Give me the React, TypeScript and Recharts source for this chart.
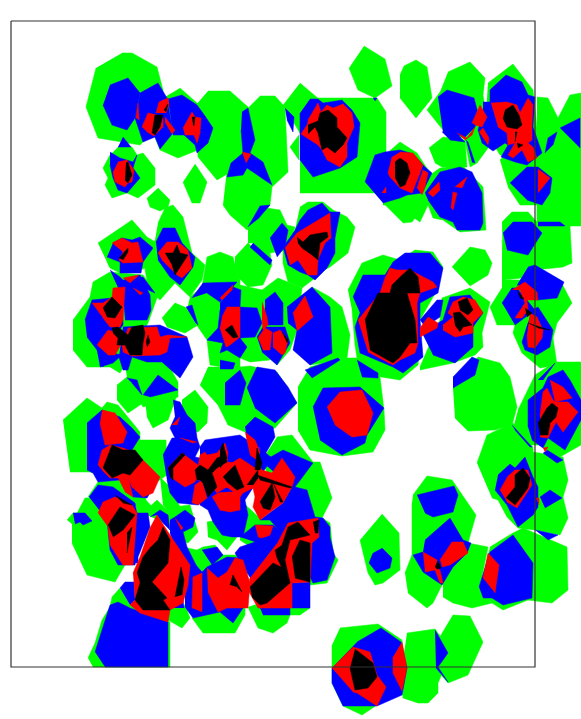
import React from "react"
import { Scatter, ScatterChart, XAxis, YAxis } from "recharts"

// every cell is a flat x,y,x,y... outline in the chart's own units
const greenCells: number[][] = [
  [122,53,132,53,157,67,163,90,165,120,140,145,98,138,86,107,96,68],
  [180,88,197,103,205,120,198,150,178,158,160,150,150,125,160,100],
  [208,91,230,91,248,107,255,145,243,165,217,180,198,157,196,105],
  [260,96,275,96,285,107,288,172,272,187,248,165,248,108],
  [228,160,250,165,272,187,270,205,262,215,247,230,230,215,223,205],
  [300,83,320,100,320,135,300,133,283,105],
  [300,98,377,98,386,112,386,193,300,193],
  [299,135,290,147,299,160],
  [364,46,385,59,392,86,375,98,358,90,349,68],
  [118,147,132,147,137,155,143,153,155,168,155,185,138,198,127,193,112,198,105,185,108,178,103,168,110,155],
  [158,188,170,200,168,207,160,211,150,207,147,198],
  [195,164,207,182,200,203,192,203,183,182],
  [158,223,165,208,173,205,183,217,192,253,205,265,202,280,190,297,175,283,160,300,149,290,145,270,155,240],
  [98,243,132,220,147,237,157,243,153,267,120,273,110,268,107,262],
  [73,320,90,297,93,282,110,272,143,275,158,295,148,323,120,373,110,367,87,367,73,350],
  [162,318,175,303,187,308,198,325,185,333,167,327],
  [123,353,160,350,178,382,178,397,143,407,127,377],
  [117,385,127,377,143,397,143,403,128,413,117,400],
  [145,400,177,395,168,420,153,428,147,417],
  [182,400,195,390,208,407,207,423,198,432,182,427],
  [190,297,202,287,207,257,220,252,233,257,237,273,240,280,240,370,210,365,207,340,198,327,187,310],
  [240,285,262,290,263,330,258,347,270,360,250,362,240,358],
  [208,367,240,367,250,366,277,372,297,403,275,428,245,432,228,425,218,405,200,385],
  [248,225,260,207,280,210,287,225,295,227,288,250,270,253,272,265,253,243,248,243],
  [235,257,248,243,272,265,263,285,248,287,238,277,235,267],
  [300,207,308,202,323,202,333,210,347,217,355,227,348,253,330,267,318,273,315,278,302,288,288,282,283,263,283,247,295,230],
  [262,290,278,278,302,288,297,330,290,350,277,365,258,347,257,337,263,327,262,303],
  [312,287,330,297,342,307,350,335,347,358,342,360,310,365,325,350,330,310],
  [298,387,310,367,340,358,357,358,380,377,384,410,385,430,373,452,342,456,310,450,298,430],
  [348,290,362,263,383,255,400,260,415,250,433,252,443,267,437,290,420,320,420,345,418,365,400,380,375,376,357,358,355,345,352,310],
  [420,367,440,320,442,298,470,288,490,302,482,333,483,347,475,355,453,363,420,370],
  [453,388,478,357,500,363,510,377,517,407,512,425,495,430,468,431,455,418],
  [452,267,470,247,485,250,492,263,488,275,470,286],
  [502,222,512,212,528,212,537,222,570,226,572,263,563,267,535,270,522,278,503,280],
  [537,97,548,98,558,118,570,95,581,93,581,226,537,226,537,150],
  [488,83,513,64,533,90,537,128,537,165,520,160,500,155,485,130],
  [500,160,510,150,540,165,538,205,520,205,508,187],
  [448,72,470,62,485,78,483,95,488,127,488,148,477,163,467,140,443,130,427,110,440,92],
  [477,163,470,167,465,140,470,135],
  [400,75,404,66,416,60,427,67,432,98,416,118,400,98],
  [429,148,443,137,465,140,467,167,442,167,435,163],
  [385,155,400,142,417,153,430,173,437,185,428,205,420,222,410,215,400,205,383,205],
  [383,203,420,195,425,205,412,222,403,223],
  [430,175,440,168,462,165,483,187,486,230,460,232,443,220,433,218,425,197],
  [502,240,505,280,520,280,537,267,560,280,572,303,557,323,553,338,557,365,540,368,522,353,513,333,515,325,497,325,490,307,502,288],
  [518,410,535,375,555,362,581,362,581,445,558,458,540,445,530,445,510,440],
  [477,463,487,435,502,428,513,423,533,447,533,452,563,457,568,480,563,497,568,518,560,535,535,530,518,528,507,517,498,500,492,498],
  [413,495,427,476,452,480,476,515,468,543,428,562,412,557,412,503],
  [405,573,412,555,423,557,443,583,433,603,427,608,408,593],
  [443,583,453,550,468,543,488,547,480,587,492,603,472,608,453,603,443,597],
  [490,547,513,533,523,528,567,547,568,590,552,603,528,600,503,610,492,603,480,587],
  [382,514,399,533,400,570,383,583,375,585,368,573,360,540],
  [63,420,87,398,102,408,107,402,118,405,140,432,140,440,166,440,167,475,145,490,120,480,90,472,70,472],
  [72,523,85,498,107,497,110,550,125,565,115,582,87,575,72,543],
  [88,497,98,482,120,480,145,497,150,513,125,500],
  [67,520,73,513,80,513,80,523,73,525],
  [135,498,143,497,157,512,148,513,137,515],
  [143,513,157,500,167,510,173,507,190,505,198,532,188,543,178,540,168,525],
  [207,522,217,520,223,533,237,537,227,550,217,540,208,537],
  [183,547,197,550,203,547,215,545,222,555,240,555,210,575,195,575],
  [160,477,170,487,180,507,173,518,167,510,163,505],
  [277,437,292,435,313,462,320,462,332,498,322,518,330,523,333,553,338,560,327,583,310,585,290,520,270,480,262,460],
  [240,500,262,520,285,520,290,530,270,560,240,540],
  [168,620,182,628,190,618,185,605,168,608],
  [192,618,203,633,235,633,245,615,245,600],
  [248,607,258,628,273,633,287,623,290,615,300,615,310,608,297,590],
  [88,658,95,643,102,620,110,607,112,597,120,588,130,605,170,622,170,667,93,667],
  [340,628,378,624,402,640,405,665,395,695,377,705,362,715,343,706,332,683,332,645],
  [407,633,435,629,443,640,448,650,448,660,438,683,438,693,428,703,418,703,403,698,400,680],
  [438,640,453,615,470,616,483,642,468,675,448,683,437,670],
]

const blueCells: number[][] = [
  [110,85,128,78,140,93,135,118,127,130,112,125,103,105],
  [140,93,158,83,167,98,173,133,160,149,155,137,143,142,135,118],
  [168,99,182,95,197,105,205,116,213,128,208,143,197,153,195,145,184,135,173,135],
  [123,137,131,147,118,147],
  [110,152,120,158,133,162,137,155,133,168,140,178,127,193,118,190,113,178,110,165],
  [242,112,248,108,255,140,250,153,263,162,272,185,247,168,243,175,227,177,231,163,243,153,241,130],
  [285,108,294,117,293,132,287,120],
  [310,99,318,99,323,103,330,102,342,100,352,110,360,123,357,157,340,168,313,177,300,160,300,113],
  [373,98,377,98,375,101],
  [248,227,260,206,270,205,258,219],
  [270,238,282,223,288,230,285,247,277,257],
  [253,243,272,260,270,265,250,247],
  [295,230,300,220,308,210,322,203,330,212,340,212,335,238,335,253,327,268,315,280,308,275,300,272,288,265,283,247],
  [113,243,122,238,132,240,140,237,153,248,143,262,141,273,120,273,120,262,107,257],
  [156,242,163,228,175,228,182,243,195,257,193,267,180,285,170,277,158,260],
  [85,320,92,300,112,298,123,320,123,325,110,343,103,367,97,350,87,337],
  [123,293,128,278,140,275,150,295,151,310,147,320,125,320],
  [110,270,120,277,123,280,143,277,155,293,142,287,128,285,120,292],
  [123,327,160,325,187,337,193,357,180,378,162,362,147,362,132,357,128,370,123,370,119,357],
  [97,350,122,355,113,363,100,367],
  [127,378,137,380,142,395,132,383],
  [143,395,158,375,178,390,150,397],
  [192,298,203,283,237,282,220,302,207,293],
  [186,307,192,305,198,325,195,322],
  [220,303,233,287,241,290,240,307,257,308,262,323,255,337,240,338,247,347,240,358,227,350,220,353,223,343,207,340,218,328,220,310],
  [225,383,240,370,246,383,240,405,225,405],
  [220,360,235,363,233,369,220,369],
  [265,300,275,292,283,303,283,325,268,325,265,317],
  [257,337,263,327,285,327,290,343,277,365,262,352],
  [287,307,312,287,330,307,332,353,310,365,293,350,297,330,288,323],
  [247,388,257,367,275,370,288,387,297,403,275,423,255,408],
  [305,370,338,358,340,360,312,378],
  [357,360,378,373,378,378,362,377],
  [313,407,323,388,360,387,384,408,367,435,365,443,342,455,320,440],
  [353,297,363,275,385,275,393,262,405,253,430,253,443,268,438,293,420,303,420,320,423,357,403,373,393,367,360,353,355,327,360,313],
  [420,320,437,300,443,300,440,317,425,327],
  [422,333,443,320,450,297,470,295,483,313,473,327,473,347,455,363,433,355],
  [453,377,472,357,479,360,475,375,453,388],
  [483,102,490,102,490,90,506,75,522,82,528,95,535,97,533,127,542,153,527,165,515,162,501,157,508,145,505,143,493,151,482,143,478,130,483,113],
  [438,97,447,90,474,98,479,117,475,127,465,137,443,132],
  [442,132,453,130,465,142,450,140],
  [466,140,468,142,475,163,472,162],
  [425,193,440,172,460,167,472,172,482,193,483,223,480,230,457,230,453,222,440,217,428,200],
  [365,182,375,155,385,152,400,150,413,154,425,167,432,173,422,193,407,195,400,198,383,203],
  [510,183,527,167,538,167,552,178,550,193,542,205,527,200],
  [560,128,580,118,580,148],
  [545,153,548,138,557,132,553,145],
  [503,233,513,222,532,222,542,233,528,255,507,250],
  [538,222,560,222,565,226,538,226],
  [528,267,535,265,564,282,557,298,537,300,527,287,517,285],
  [502,303,512,288,517,288,535,310,515,325],
  [532,310,538,307,553,330,550,347,537,355,525,350,522,342,528,323],
  [538,380,555,363,543,380],
  [528,427,528,400,543,388,548,377,563,370,570,380,581,400,581,420,565,450,548,438,543,448,532,440],
  [512,425,532,447,530,447,515,430],
  [547,450,563,460,557,463,543,453],
  [498,475,510,464,515,468,525,457,533,477,538,487,538,507,533,515,518,527,507,505,495,490],
  [540,497,550,490,562,498,545,508],
  [535,530,558,535,548,540],
  [417,495,454,486,458,495,453,512,433,517,425,513],
  [425,540,450,518,463,540,471,543,467,553,453,567,442,585,423,572,413,555,423,552],
  [479,587,490,552,513,535,533,563,532,598,503,605,492,598,483,598],
  [382,548,392,558,390,568,377,573,369,563,373,553],
  [87,423,102,410,120,417,132,428,140,437,132,450,143,477,150,493,147,498,133,497,120,480,98,482,93,473,87,470],
  [73,513,85,513,92,521,83,525,80,522,75,524],
  [89,497,98,485,113,487,135,503,140,530,135,565,118,565,110,550,107,520],
  [137,513,148,513,150,527,138,557,138,563,135,563],
  [170,520,175,517,185,510,195,518,193,527,183,532,187,547,200,573,192,585,175,547,170,533],
  [150,517,160,510,168,515,170,530,163,523,157,515],
  [173,400,180,402,187,415,195,423,197,438,185,438,175,438,170,428,175,417],
  [163,455,172,438,197,438,200,447,195,457,210,460,220,483,207,500,198,505,178,503,170,493,167,480],
  [245,427,255,417,273,427,275,437,263,458,260,448,248,443],
  [200,447,205,440,240,435,262,450,272,458,258,480,245,500,248,515,243,537,232,537,222,535,213,522,208,510,200,505],
  [262,462,283,450,313,463,295,487,307,490,315,517,323,518,330,527,330,537,335,557,327,580,313,583,300,555,270,520,260,520,283,503,292,487],
  [240,537,255,525,273,525,283,533,282,538,268,555,252,580,245,570,235,553,240,547,255,542],
  [202,550,217,547,223,555,212,565],
  [185,553,202,572,207,567,227,557,242,558,250,587,243,608,233,623,220,612,193,618,185,607],
  [172,608,168,600,183,600,184,608],
  [260,608,290,608,290,615,263,615],
  [292,583,310,582,310,608,292,608],
  [95,652,110,605,118,602,130,608,168,622,168,667,105,667],
  [120,588,125,582,134,582,135,600,130,605],
  [357,642,381,628,401,642,407,668,402,695,377,706,343,706,332,683,332,668],
  [435,630,448,653,438,667,448,682,436,668],
]

const redCells: number[][] = [
  [136,118,138,103,139,120],
  [156,113,159,102,168,98,169,105,166,113],
  [142,127,148,113,157,115,163,118,163,127,154,136,147,132],
  [165,117,175,130,172,134,165,122],
  [183,128,192,112,195,117,201,118,200,133,197,143,194,135,185,135],
  [118,162,127,160,134,170,132,182,128,183,125,187,115,182,113,172],
  [242,152,251,154,246,163],
  [308,120,318,103,321,112,327,105,333,108,343,104,352,113,354,127,347,143,347,157,340,167,327,160,322,150,318,145,301,134,307,125],
  [285,248,297,233,310,225,330,213,331,238,325,243,318,260,317,275,308,275,298,260,290,265],
  [112,243,122,238,132,243,138,242,143,262,123,263,119,260,123,252],
  [158,253,167,242,178,242,188,250,192,268,182,278,177,275,162,260],
  [92,303,103,303,112,297,113,288,125,287,123,320,120,327,110,327,103,318],
  [123,278,139,275,130,283],
  [133,288,143,293,140,295],
  [97,345,108,330,118,333,122,343,115,355,108,355],
  [122,347,128,328,157,327,160,337,168,335,187,337,170,338,167,352,160,355,132,356,123,352],
  [222,317,227,307,240,307,240,337,230,345,226,347,220,328],
  [220,298,233,285,232,290,222,300],
  [262,302,267,317,268,325,263,330,262,320],
  [258,338,265,328,272,332,270,350,263,350],
  [273,333,280,330,288,340,285,353,282,355,273,347],
  [293,313,305,296,313,317,297,331],
  [327,407,340,392,362,390,373,413,367,435,352,437,335,425],
  [358,320,380,293,385,278,390,268,397,270,410,270,433,282,437,287,420,293,417,303,418,343,415,353,400,360,393,365,368,352],
  [420,328,428,317,438,323,437,328,420,337],
  [443,325,453,317,448,313,453,302,463,297,475,300,483,313,473,323,473,333,455,337,443,330],
  [472,123,480,105,487,117,482,127,475,125],
  [479,132,483,128,489,138,488,145],
  [491,103,507,102,517,105,520,113,528,98,533,105,532,125,532,140,528,143,533,147,537,158,528,162,522,150,513,158,508,155,515,143,508,145,507,133,498,127],
  [457,133,467,138,475,127,472,135,465,140],
  [400,152,413,153,423,165,420,173,412,193,400,188,390,177,388,173,392,157],
  [382,193,386,187,386,193],
  [417,188,423,170,428,173,425,187,422,195],
  [428,193,439,182,440,190,433,197],
  [455,187,467,177,462,188],
  [451,208,453,192,457,193,453,210],
  [538,169,550,178,538,193],
  [512,290,525,282,537,292,538,300,527,300,528,310,522,318,515,318,525,303,520,290],
  [530,313,537,317,543,330,542,338,535,348,528,347,527,335],
  [550,380,563,387,572,398,555,402],
  [540,415,543,392,547,388,553,400,555,402,568,402,578,412,563,432,556,422,548,438,540,437],
  [543,448,548,447,545,452],
  [500,490,508,476,515,470,528,470,532,485,517,508,507,502],
  [536,498,539,498,539,505],
  [440,560,452,542,463,542,468,553,450,565,442,567],
  [423,552,437,560,436,568,440,570,443,583,440,583,435,570,425,572],
  [483,578,488,553,499,565,495,593],
  [102,410,115,413,127,432,123,443,105,445,100,423],
  [98,465,102,450,110,445,123,448,133,452,143,460,160,477,153,493,143,497,132,487,128,478,110,478,102,470],
  [118,478,128,477,133,497,125,492],
  [98,513,103,502,115,497,132,505,137,513,133,565,123,565,110,545,108,527],
  [133,573,140,557,150,528,157,515,170,535,190,565,188,585,183,603,170,610,168,622,140,613,130,605,135,600],
  [175,518,183,528,181,530],
  [172,425,180,417,177,425],
  [180,438,197,442,192,443],
  [168,468,182,453,198,465,195,482,185,487,172,478],
  [192,503,195,485,202,480,207,498,198,505],
  [198,467,200,455,205,452,207,455,217,453,225,443,228,453,227,462,235,463,240,470,240,483,225,488,217,493,207,480,195,480],
  [212,497,218,493,230,492,240,495,240,510,230,512,220,510,217,505],
  [245,432,255,440,260,452,257,460,250,455],
  [220,470,240,458,255,468,258,463,262,470,272,473,282,458,295,477,292,487,283,503,273,510,260,520,253,507,255,497,253,488,243,493,240,497,227,487,220,483],
  [220,493,235,492,240,502,232,510,220,510],
  [255,525,273,526,270,535,262,538,258,537],
  [278,542,288,523,300,521,318,518,319,537,312,543,310,582,292,583,292,608,258,608,248,590,250,578],
  [192,608,193,577,202,573,202,612],
  [207,568,218,578,227,572,235,558,243,560,250,583,248,608,227,608,218,612,208,592],
  [332,668,353,647,370,652,377,675,386,687,377,706,357,693,353,692],
  [402,642,407,668,402,691,393,673,393,657],
]

const blackCells: number[][] = [
  [152,133,155,115,163,115,160,127,155,135],
  [164,110,168,104,166,112],
  [192,117,195,117,194,126,193,125],
  [126,163,128,162,132,175,128,183,125,180],
  [308,125,318,121,320,113,328,110,337,118,337,127,347,138,343,145,335,153,327,147,322,150,318,133,315,127,308,134],
  [297,237,303,242,310,235,327,232,328,237,320,243,318,260,312,255,302,248,298,243],
  [119,258,128,248,128,252,123,260],
  [165,253,173,253,177,245,180,253,188,255,175,275,172,265],
  [103,308,112,297,122,307,115,318,107,317],
  [112,328,118,327,128,335,132,327,143,325,145,333,143,343,142,355,130,355,125,345,117,345,118,338,113,333],
  [146,342,148,335,150,342,147,347],
  [225,330,232,325,238,337,233,338],
  [282,332,288,340,287,343],
  [365,320,378,293,390,293,392,285,400,277,410,268,418,277,420,293,407,293,415,320,417,343,410,343,400,357,393,363,370,350],
  [458,302,467,298,473,310,468,315,460,310],
  [453,313,460,312,472,325,463,327,460,332,455,325],
  [505,110,513,105,519,115,522,125,517,129,507,127,503,118],
  [515,132,517,132,515,142],
  [517,143,523,145,518,148],
  [395,162,400,158,407,163,410,173,405,185,400,187,395,177],
  [517,290,524,299,520,298],
  [528,323,540,327,550,330,538,328],
  [525,308,532,313,527,317],
  [538,423,547,408,552,403,558,408,556,417,550,423,548,435,540,435],
  [506,498,515,487,515,475,523,468,530,478,528,488,515,505],
  [435,567,438,561,441,568,437,569],
  [103,468,112,445,123,450,135,450,143,460,130,475,123,473,112,478],
  [108,525,120,507,135,515,127,525,123,530,113,537],
  [115,495,132,505,123,503],
  [127,533,132,527,127,553],
  [137,573,143,557,150,548,158,540,163,527,170,540,168,563,152,582,167,598,163,600,170,610,143,610,135,600,140,583],
  [175,597,181,567,184,580,182,595],
  [168,468,182,453,185,455,173,468,173,480,170,477],
  [197,480,195,470,200,465,208,470,217,458,225,455,227,462,217,468,212,473,217,487,208,497,203,483,200,480],
  [223,477,235,465,244,487,237,490,227,482],
  [247,485,258,470,258,478,253,485],
  [255,470,257,448,262,463,260,470],
  [220,450,223,443,227,458,220,468],
  [260,502,272,483,275,497,270,510,263,508],
  [257,475,292,487,290,488,260,480],
  [273,483,283,502,280,502],
  [250,587,273,563,283,568,290,583,267,603,260,605,252,597],
  [282,545,288,527,298,522,310,535,290,540,285,560,290,583,282,568,277,558,275,550],
  [292,557,300,540,310,543,310,582,295,578],
  [313,522,319,520,318,533,315,533],
  [230,585,233,575,242,592,237,587],
  [355,649,373,663,377,677,368,688,355,690,350,668],
]

const frameCorners = [11,21,535,21,535,667,11,667,11,21]

const toPoints = (cell: number[]) => {
  const pts: { x: number; y: number }[] = []
  for (let i = 0; i < cell.length; i += 2) pts.push({ x: cell[i], y: cell[i + 1] })
  return pts
}

// Scatter's connecting line is what paints the filled cell, the dots stay hidden
const noDot = () => <g />

const cellSeries = (cells: number[][], color: string) =>
  cells.map((cell, i) => (
    <Scatter
      key={color + i}
      data={toPoints(cell)}
      line={{ fill: color, stroke: color, strokeWidth: 0.5 }}
      shape={noDot}
      isAnimationActive={false}
    />
  ))

export default function App() {
  return (
    <div style={{ position: "absolute", left: 0, top: 0, background: "white" }}>
      <ScatterChart width={581} height={719} margin={{ top: 0, right: 0, bottom: 0, left: 0 }}>
        <XAxis type="number" dataKey="x" domain={[0, 581]} hide />
        <YAxis type="number" dataKey="y" domain={[0, 719]} reversed hide />
        {cellSeries(greenCells, "#00ff00")}
        {cellSeries(blueCells, "#0000ff")}
        {cellSeries(redCells, "#ff0000")}
        {cellSeries(blackCells, "#000000")}
        <Scatter
          data={toPoints(frameCorners)}
          line={{ fill: "none", stroke: "#333333", strokeWidth: 1.2 }}
          shape={noDot}
          isAnimationActive={false}
        />
      </ScatterChart>
    </div>
  )
}
